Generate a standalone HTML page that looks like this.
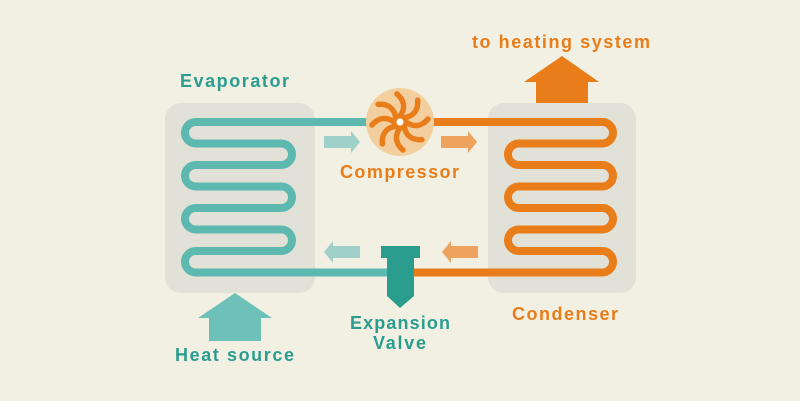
<!DOCTYPE html>
<html><head><meta charset="utf-8"><style>
html,body{margin:0;padding:0;background:#f1f0e3;}
svg{display:block}
text{font-family:"Liberation Sans",sans-serif;font-weight:bold;letter-spacing:1px}
</style></head><body>
<svg width="800" height="401" viewBox="0 0 800 401" xmlns="http://www.w3.org/2000/svg">
<rect width="800" height="401" fill="#f1f0e3"/>
<rect x="165" y="103" width="150" height="190" rx="16" fill="#e2e1d7"/>
<rect x="488" y="103" width="148" height="190" rx="16" fill="#e2e1d7"/>
<path d="M372 122 H195.75 A10.75 10.75 0 0 0 195.75 143.5 H281.25 A10.75 10.75 0 0 1 281.25 165 H195.75 A10.75 10.75 0 0 0 195.75 186.5 H281.25 A10.75 10.75 0 0 1 281.25 208 H195.75 A10.75 10.75 0 0 0 195.75 229.5 H281.25 A10.75 10.75 0 0 1 281.25 251 H195.75 A10.75 10.75 0 0 0 195.75 272.5 H392" fill="none" stroke="#5db8b0" stroke-width="8"/>
<path d="M430 122 H602.25 A10.75 10.75 0 0 1 602.25 143.5 H518.75 A10.75 10.75 0 0 0 518.75 165 H602.25 A10.75 10.75 0 0 1 602.25 186.5 H518.75 A10.75 10.75 0 0 0 518.75 208 H602.25 A10.75 10.75 0 0 1 602.25 229.5 H518.75 A10.75 10.75 0 0 0 518.75 251 H602.25 A10.75 10.75 0 0 1 602.25 272.5 H408" fill="none" stroke="#e97d1a" stroke-width="8"/>
<circle cx="400" cy="122" r="34" fill="#f3cfa0"/>
<g transform="translate(400,122)" stroke="#e97d1a" stroke-width="5.5" stroke-linecap="round" fill="none">
<path d="M0 -6 C6 -14 4 -22 -3 -28"/>
<path d="M0 -6 C6 -14 4 -22 -3 -28" transform="rotate(45)"/>
<path d="M0 -6 C6 -14 4 -22 -3 -28" transform="rotate(90)"/>
<path d="M0 -6 C6 -14 4 -22 -3 -28" transform="rotate(135)"/>
<path d="M0 -6 C6 -14 4 -22 -3 -28" transform="rotate(180)"/>
<path d="M0 -6 C6 -14 4 -22 -3 -28" transform="rotate(225)"/>
<path d="M0 -6 C6 -14 4 -22 -3 -28" transform="rotate(270)"/>
<path d="M0 -6 C6 -14 4 -22 -3 -28" transform="rotate(315)"/>
</g>
<circle cx="400" cy="122" r="7" fill="#e97d1a"/>
<circle cx="400" cy="122" r="3.5" fill="#fff"/>
<path d="M381 246 H420 V258 H414 V296 L400 308 L387 296 V258 H381 Z" fill="#2a9d8f"/>
<path d="M324 136 H351 V131 L360 142 L351 153 V148 H324 Z" fill="#9fd0c9"/>
<path d="M360 246 H333 V241 L324 252 L333 263 V258 H360 Z" fill="#9fd0c9"/>
<path d="M441 136 H468 V131 L477 142 L468 153 V148 H441 Z" fill="#eda25e"/>
<path d="M478 246 H451 V241 L442 252 L451 263 V258 H478 Z" fill="#eda25e"/>
<path d="M235 293 L272 318 H261 V341 H209 V318 H198 Z" fill="#6ec1b8"/>
<path d="M562 56 L599 82 H588 V103 H536 V82 H524 Z" fill="#e97d1a"/>
<text x="472" y="48" font-size="18" fill="#e97d1a" textLength="179" lengthAdjust="spacing">to heating system</text>
<text x="180" y="87" font-size="18" fill="#2a9d8f" textLength="110" lengthAdjust="spacing">Evaporator</text>
<text x="340" y="178" font-size="18" fill="#e97d1a" textLength="120" lengthAdjust="spacing">Compressor</text>
<text x="512" y="320" font-size="18" fill="#e97d1a" textLength="107" lengthAdjust="spacing">Condenser</text>
<text x="175" y="361" font-size="18" fill="#2a9d8f" textLength="120" lengthAdjust="spacing">Heat source</text>
<text x="350" y="329" font-size="18" fill="#2a9d8f" textLength="101" lengthAdjust="spacing">Expansion</text>
<text x="373" y="349" font-size="18" fill="#2a9d8f" textLength="54" lengthAdjust="spacing">Valve</text>
</svg>
</body></html>
